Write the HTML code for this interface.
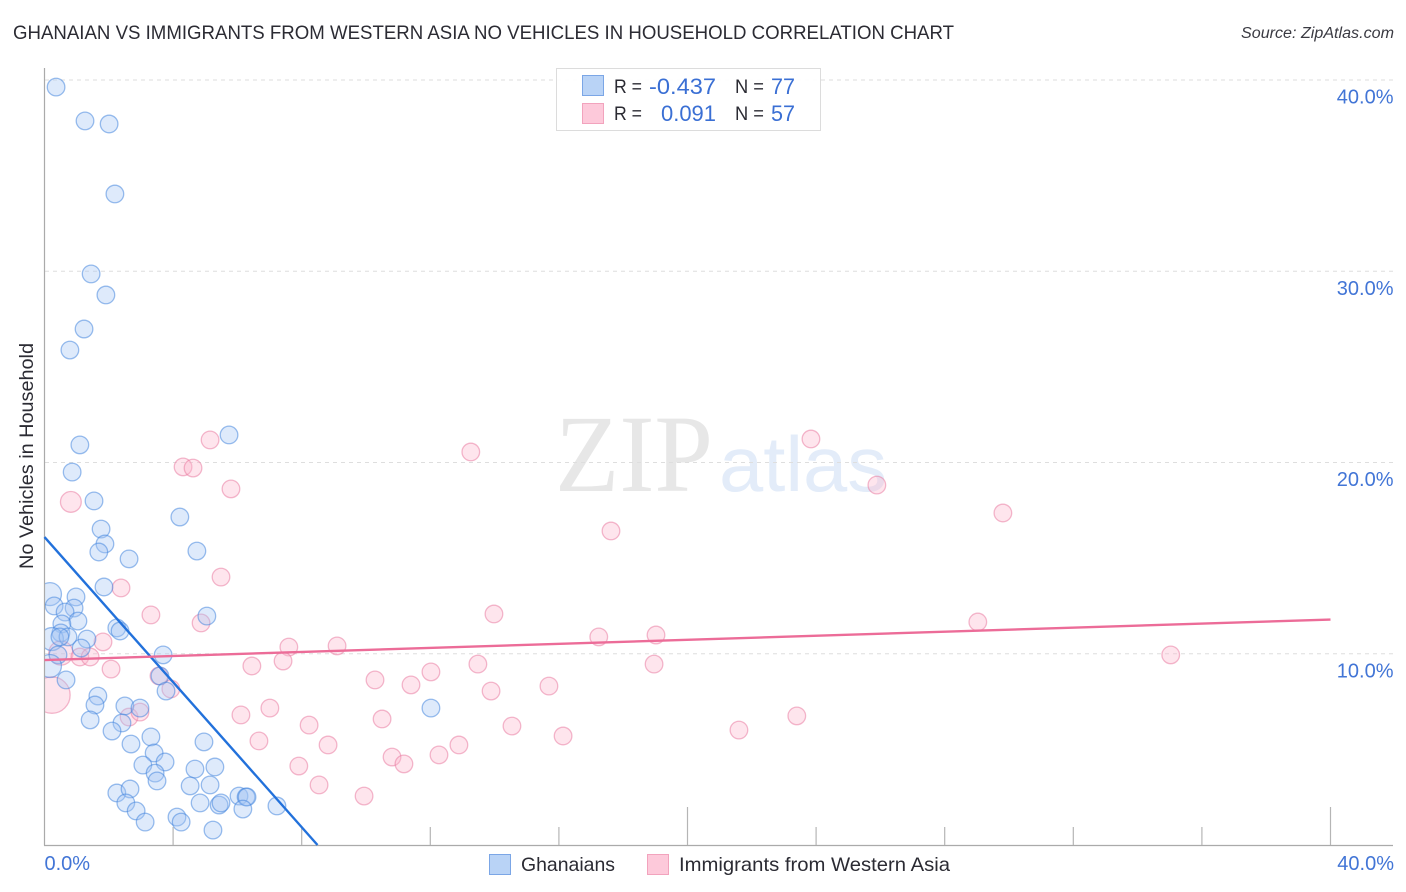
<!DOCTYPE html>
<html lang="en">
<head>
<meta charset="utf-8">
<title>Ghanaian vs Immigrants from Western Asia No Vehicles in Household Correlation Chart</title>
<style>
html,body{margin:0;padding:0;background:#fff;width:1406px;height:892px;overflow:hidden}
svg{display:block;font-family:"Liberation Sans",sans-serif}
</style>
</head>
<body>
<svg id="chart" xmlns="http://www.w3.org/2000/svg" width="1406" height="892" viewBox="0 0 1406 892">
  <text x="13" y="39" font-size="19.5" fill="#2b2b33" textLength="941" lengthAdjust="spacingAndGlyphs">GHANAIAN VS IMMIGRANTS FROM WESTERN ASIA NO VEHICLES IN HOUSEHOLD CORRELATION CHART</text>
  <text x="1241" y="38" font-size="15.5" font-style="italic" fill="#3a3a42" textLength="153" lengthAdjust="spacingAndGlyphs">Source: ZipAtlas.com</text>
  <g id="watermark">
    <text x="555" y="491" font-family="'Liberation Serif',serif" font-size="110" fill="#e7e7e7" textLength="158" lengthAdjust="spacingAndGlyphs">ZIP</text>
    <text x="719" y="491" font-size="78" fill="#e3ecf9" textLength="168" lengthAdjust="spacingAndGlyphs">atlas</text>
  </g>
  <g id="grid"></g>
  <g id="points"></g>
  <rect x="0" y="60" width="44" height="790" fill="#fff"/>
  <text transform="translate(33,456) rotate(-90)" font-size="19" fill="#2b2b33" text-anchor="middle" textLength="226" lengthAdjust="spacingAndGlyphs">No Vehicles in Household</text>
  <g id="axes"></g>
  <g id="trends"></g>
  <g id="stat-legend">
    <rect x="556.5" y="68.5" width="264" height="62" fill="#fff" fill-opacity="0.92" stroke="#dcdcdc" stroke-width="1"/>
    <rect x="582.5" y="75.5" width="21" height="20" fill="#b9d3f6" stroke="#7ba6e6"/>
    <rect x="582.5" y="103.5" width="21" height="20" fill="#fdc9da" stroke="#f2a3bd"/>
    <g font-size="19" fill="#2b2b33">
      <text x="614" y="93" textLength="28" lengthAdjust="spacingAndGlyphs">R =</text>
      <text x="735" y="93" textLength="29" lengthAdjust="spacingAndGlyphs">N =</text>
      <text x="614" y="120" textLength="28" lengthAdjust="spacingAndGlyphs">R =</text>
      <text x="735" y="120" textLength="29" lengthAdjust="spacingAndGlyphs">N =</text>
    </g>
    <g font-size="22" fill="#3a6fd4">
      <text x="649" y="94" textLength="67" lengthAdjust="spacingAndGlyphs">-0.437</text>
      <text x="771" y="94" textLength="24" lengthAdjust="spacingAndGlyphs">77</text>
      <text x="661" y="121" textLength="55" lengthAdjust="spacingAndGlyphs">0.091</text>
      <text x="771" y="121" textLength="24" lengthAdjust="spacingAndGlyphs">57</text>
    </g>
  </g>
  <g id="series-legend">
    <rect x="489.5" y="854.5" width="21" height="20" fill="#b9d3f6" stroke="#7ba6e6"/>
    <text x="521" y="871" font-size="19.5" fill="#2b2b33" textLength="94" lengthAdjust="spacingAndGlyphs">Ghanaians</text>
    <rect x="647.5" y="854.5" width="21" height="20" fill="#fdc9da" stroke="#f2a3bd"/>
    <text x="679" y="871" font-size="19.5" fill="#2b2b33" textLength="271" lengthAdjust="spacingAndGlyphs">Immigrants from Western Asia</text>
  </g>
</svg>
<script>
const ghanaianX = [0.36,1.26,2.01,2.19,1.45,1.91,1.23,0.79,5.74,1.10,0.86,1.54,4.21,1.76,1.88,1.69,4.74,2.63,1.85,0.17,0.98,0.30,0.92,0.64,1.04,0.54,0.51,0.23,0.73,1.32,1.14,0.42,0.17,0.67,2.25,2.35,3.69,3.59,3.78,5.05,1.66,1.57,1.42,2.50,2.97,2.41,2.10,2.69,3.31,3.41,3.06,3.75,3.44,3.50,4.96,4.68,5.30,4.53,5.15,4.84,5.43,5.49,6.05,6.27,6.30,6.17,7.23,2.25,2.66,2.53,2.85,3.13,4.12,4.25,5.24,12.02,0.48];
const ghanaianY = [39.63,37.86,37.70,34.04,29.86,28.76,26.98,25.88,21.44,20.92,19.50,17.99,17.15,16.52,15.74,15.32,15.37,14.96,13.49,13.12,12.97,12.50,12.39,12.18,11.71,11.56,11.09,10.77,10.88,10.77,10.30,9.94,9.36,8.63,11.35,11.19,9.94,8.84,8.05,11.97,7.79,7.32,6.54,7.27,7.16,6.38,5.96,5.28,5.65,4.81,4.18,4.34,3.76,3.35,5.39,3.97,4.08,3.09,3.14,2.20,2.09,2.20,2.56,2.51,2.51,1.88,2.04,2.72,2.93,2.20,1.78,1.20,1.46,1.20,0.78,7.16,10.88];
const ghanaianWeight = [1,1,1,1,1,1,1,1,1,1,1,1,1,1,1,1,1,1,1,1.7,1,1,1,1,1,1,1,1.7,1,1,1,1,1.7,1,1,1,1,1,1,1,1,1,1,1,1,1,1,1,1,1,1,1,1,1,1,1,1,1,1,1,1,1,1,1,1,1,1,1,1,1,1,1,1,1,1,1,1];
const immigrantX = [5.15,4.31,4.62,5.80,0.82,13.26,23.84,25.89,29.81,17.62,5.49,2.38,3.31,4.87,13.98,29.03,17.24,19.02,1.82,0.51,1.10,1.42,2.07,7.60,9.10,7.42,6.45,18.96,13.48,12.02,10.28,11.40,13.89,15.69,35.03,3.56,3.93,0.23,6.11,7.01,2.63,2.97,8.23,8.82,6.67,7.91,8.54,10.50,14.54,16.13,21.60,23.40,12.89,12.27,10.81,11.18,9.94];
const immigrantY = [21.18,19.77,19.71,18.62,17.94,20.55,21.23,18.82,17.36,16.42,14.01,13.44,12.03,11.61,12.08,11.66,10.88,10.98,10.62,10.04,9.83,9.83,9.20,10.35,10.41,9.62,9.36,9.46,9.46,9.05,8.63,8.37,8.05,8.31,9.94,8.84,8.16,7.84,6.80,7.16,6.69,6.95,6.27,5.23,5.44,4.13,3.14,6.59,6.22,5.70,6.01,6.75,5.23,4.71,4.60,4.24,2.56];
const immigrantWeight = [1,1,1,1,1.4,1,1,1,1,1,1,1,1,1,1,1,1,1,1,1.9,1,1,1,1,1,1,1,1,1,1,1,1,1,1,1,1,1,4.3,1,1,1,1,1,1,1,1,1,1,1,1,1,1,1,1,1,1,1];
const ghanaianTrend = [16.1, -1.896];
const immigrantTrend = [9.67, 0.053];
const yTickValues = [10, 20, 30, 40];
const yTickLabels = ["10.0%", "20.0%", "30.0%", "40.0%"];
const xTickValues = [4, 8, 12, 16, 20, 24, 28, 32, 36, 40];
const xMajorTicks = [20, 40];
const xEndLabels = ["0.0%", "40.0%"];
const xEndValues = [0, 40];

const NS = 'http://www.w3.org/2000/svg';
const xScale = v => 44.5 + v * 32.15;
const yScale = v => 845 - v * 19.125;

function make(tag, attrs, parent, text) {
  const el = document.createElementNS(NS, tag);
  for (const key in attrs) el.setAttribute(key, attrs[key]);
  if (text !== undefined) el.textContent = text;
  parent.appendChild(el);
  return el;
}

const grid = document.getElementById('grid');
const axes = document.getElementById('axes');
const points = document.getElementById('points');
const trends = document.getElementById('trends');

yTickValues.forEach((v, i) => {
  const line = make('line', {x1: 45, x2: 1393, y1: yScale(v), y2: yScale(v), stroke: '#dedede', 'stroke-width': 1, 'stroke-dasharray': '4 4'}, grid);
  
  
  const label = make('text', {x: 1393.5, y: yScale(v) + 23.5, 'font-size': 20, fill: '#4275d6', 'text-anchor': 'end'}, axes, yTickLabels[i]);
  
  
});

const yAxisLine = make('line', {x1: 44.5, x2: 44.5, y1: 68, y2: 845.5, stroke: '#aaaaaa', 'stroke-width': 1.2}, axes);


const xAxisLine = make('line', {x1: 44, x2: 1393, y1: 845.5, y2: 845.5, stroke: '#aaaaaa', 'stroke-width': 1.2}, axes);



xTickValues.forEach(v => {
  const top = xMajorTicks.includes(v) ? 807 : 827;
  const tick = make('line', {x1: xScale(v), x2: xScale(v), y1: top, y2: 845, stroke: '#b5b5b5', 'stroke-width': 1.2}, axes);
  
  
});

xEndValues.forEach((v, i) => {
  const anchor = i === 0 ? 'start' : 'end';
  const px = i === 0 ? xScale(v) : 1394;
  const label = make('text', {x: px, y: 870, 'font-size': 20, fill: '#4275d6', 'text-anchor': anchor}, axes, xEndLabels[i]);
  
  
});

function drawSeries(xs, ys, weights, fill, stroke, name) {
  xs.forEach((x, i) => {
    const dot = make('circle', {cx: xScale(x), cy: yScale(ys[i]), r: 8.8 * Math.sqrt(weights[i]), fill: fill, 'fill-opacity': 0.36, stroke: stroke, 'stroke-opacity': 0.52, 'stroke-width': 1.3}, points);
    
    
  });
}
drawSeries(immigrantX, immigrantY, immigrantWeight, '#fbb6cc', '#e8789f', 'immigrant-point');
drawSeries(ghanaianX, ghanaianY, ghanaianWeight, '#a3c6f5', '#3f82dc', 'ghanaian-point');

const trendValueAt = (t, x) => t[0] + t[1] * x;
const blueEnd = Math.min(40, -ghanaianTrend[0] / ghanaianTrend[1]);
const blueLine = make('line', {x1: xScale(0), y1: yScale(trendValueAt(ghanaianTrend, 0)), x2: xScale(blueEnd), y2: yScale(trendValueAt(ghanaianTrend, blueEnd)), stroke: '#2271db', 'stroke-width': 2.4}, trends);


const pinkLine = make('line', {x1: xScale(0), y1: yScale(trendValueAt(immigrantTrend, 0)), x2: xScale(40), y2: yScale(trendValueAt(immigrantTrend, 40)), stroke: '#ec6c98', 'stroke-width': 2.4}, trends);


</script>
</body>
</html>
